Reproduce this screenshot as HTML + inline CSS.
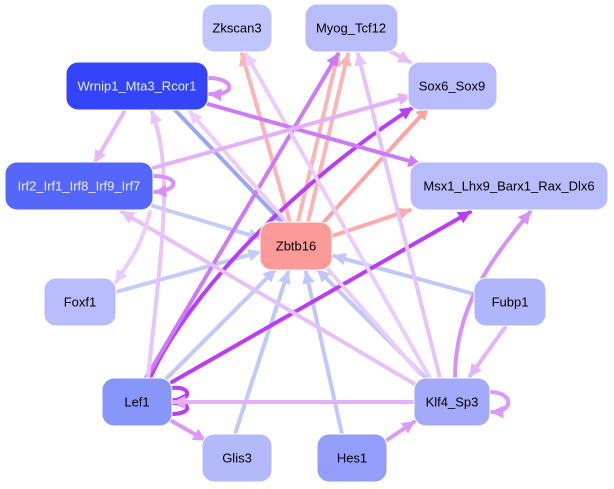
<!DOCTYPE html>
<html><head><meta charset="utf-8"><style>
html,body{margin:0;padding:0;background:#fff;}
svg{display:block;}
text{font-family:"Liberation Sans",sans-serif;font-size:13px;text-anchor:middle;dominant-baseline:central;}
</style></head><body>
<svg width="614" height="489" viewBox="0 0 614 489" xmlns="http://www.w3.org/2000/svg">
<defs>
<marker id="a" viewBox="0 0 10 10" refX="9" refY="5" markerWidth="3.2" markerHeight="3.2" orient="auto" markerUnits="strokeWidth"><path d="M0,0L10,5L0,10z" fill="context-stroke"/></marker>
</defs>
<g fill="none" stroke-width="4" marker-end="url(#a)" stroke-linecap="round">
<line x1="175" y1="110" x2="282" y2="222" stroke="#9aa6f5"/>
<line x1="153" y1="206" x2="260" y2="238" stroke="#c4ccfb"/>
<line x1="116" y1="292" x2="260" y2="252" stroke="#c4ccfb"/>
<line x1="165" y1="380" x2="275" y2="270" stroke="#c0c8fb"/>
<line x1="235" y1="434" x2="288" y2="272" stroke="#c0c8fb"/>
<line x1="342" y1="434" x2="306" y2="272" stroke="#c0c8fb"/>
<line x1="428" y1="380" x2="318" y2="270" stroke="#c0c8fb"/>
<line x1="474" y1="294" x2="334" y2="256" stroke="#c0c8fb"/>
<line x1="290" y1="222" x2="242" y2="54" stroke="#fcb4b4"/>
<line x1="298" y1="222" x2="338" y2="54" stroke="#fcb4b4"/>
<line x1="308" y1="222" x2="348" y2="54" stroke="#fcb4b4"/>
<line x1="322" y1="224" x2="428" y2="108" stroke="#fca4a4"/>
<line x1="332" y1="236" x2="410" y2="210" stroke="#fcaaaa"/>
<path d="M150,378 C190,290 300,180 412,108" stroke="#bb3cf5"/>
<line x1="172" y1="382" x2="470" y2="212" stroke="#bb3cf5"/>
<line x1="146" y1="378" x2="338" y2="54" stroke="#cc7af5"/>
<path d="M148,378 C160,260 175,170 152,112" stroke="#e8c4f8"/>
<path d="M172,388 C192,386 192,400 174,400" stroke="#bb3cf5"/>
<path d="M172,414 C192,414 192,402 174,403" stroke="#bb3cf5"/>
<line x1="170" y1="420" x2="205" y2="440" stroke="#dd99f8"/>
<line x1="414" y1="402" x2="174" y2="402" stroke="#e4b0f8"/>
<path d="M490,392 C514,392 514,412 492,412" stroke="#dd99f8"/>
<line x1="387" y1="440" x2="414" y2="422" stroke="#dd99f8"/>
<line x1="506" y1="326" x2="470" y2="376" stroke="#e4b4f8"/>
<path d="M455,378 C455,300 500,250 530,212" stroke="#d890f8"/>
<line x1="430" y1="378" x2="246" y2="54" stroke="#ecccfa"/>
<line x1="440" y1="378" x2="358" y2="54" stroke="#e6c4fa"/>
<line x1="420" y1="374" x2="190" y2="112" stroke="#ecccfa"/>
<line x1="418" y1="386" x2="122" y2="212" stroke="#e8c0f8"/>
<line x1="388" y1="50" x2="410" y2="62" stroke="#e6c0f8"/>
<line x1="208" y1="104" x2="420" y2="164" stroke="#cc7af5"/>
<line x1="153" y1="168" x2="410" y2="96" stroke="#e4b0f8"/>
<line x1="124" y1="112" x2="95" y2="162" stroke="#e6b8f8"/>
<path d="M150,212 C140,250 130,260 116,282" stroke="#ecccfa"/>
<path d="M208,78 C236,78 236,96 210,94" stroke="#d890f8"/>
<path d="M153,176 C180,176 180,190 155,192" stroke="#d890f8"/>
</g>
<g stroke="#ffffff" stroke-width="1">
<rect x="202" y="4" width="70" height="48" rx="12" fill="#c0c6fb"/>
<rect x="305" y="4" width="93" height="48" rx="12" fill="#b8bdfa"/>
<rect x="66" y="62" width="142" height="48" rx="12" fill="#3344fa"/>
<rect x="408" y="62" width="89" height="48" rx="12" fill="#b8bcfb"/>
<rect x="5" y="162" width="148" height="48" rx="12" fill="#5566fa"/>
<rect x="410" y="162" width="198" height="48" rx="12" fill="#b8bcfb"/>
<rect x="260" y="222" width="72" height="48" rx="12" fill="#fc9a9a"/>
<rect x="44" y="278" width="72" height="48" rx="12" fill="#b8bcfb"/>
<rect x="474" y="278" width="72" height="48" rx="12" fill="#b0b6fb"/>
<rect x="102" y="378" width="70" height="48" rx="12" fill="#8896fa"/>
<rect x="414" y="378" width="76" height="48" rx="12" fill="#a4aafa"/>
<rect x="202" y="434" width="70" height="48" rx="12" fill="#b4baf9"/>
<rect x="317" y="434" width="70" height="48" rx="12" fill="#949efa"/>
</g>
<g fill="#000">
<text x="237" y="28">Zkscan3</text>
<text x="351" y="28">Myog_Tcf12</text>
<text x="137" y="86" fill="#e8ecff">Wrnip1_Mta3_Rcor1</text>
<text x="452" y="86">Sox6_Sox9</text>
<text x="79" y="186" fill="#e8ecff">Irf2_Irf1_Irf8_Irf9_Irf7</text>
<text x="509" y="186">Msx1_Lhx9_Barx1_Rax_Dlx6</text>
<text x="296" y="246">Zbtb16</text>
<text x="80" y="302">Foxf1</text>
<text x="510" y="302">Fubp1</text>
<text x="137" y="402">Lef1</text>
<text x="452" y="402">Klf4_Sp3</text>
<text x="237" y="458">Glis3</text>
<text x="352" y="458">Hes1</text>
</g>
</svg>
</body></html>
